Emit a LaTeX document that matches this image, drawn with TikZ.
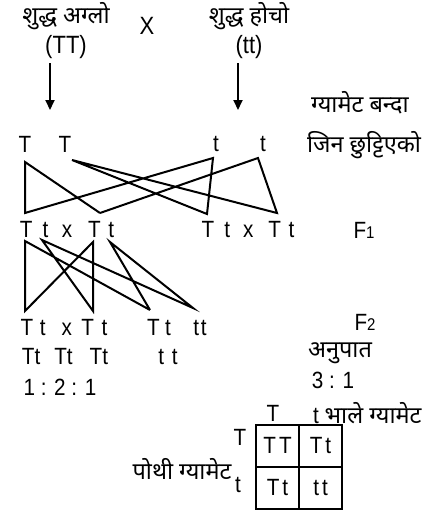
\documentclass[tikz,border=0pt]{standalone}
\usepackage{fontspec}
\setmainfont{Liberation Sans}[FakeStretch=0.88]
\newfontfamily\devfont[Script=Devanagari]{Noto Sans}
\usetikzlibrary{arrows.meta,positioning}

\begin{document}
\begin{tikzpicture}[x=1pt, y=-1pt,
    lbl/.style={inner sep=0pt, font=\fontsize{23.5}{26}\selectfont},
    big/.style={inner sep=0pt, font=\fontsize{25}{28}\selectfont},
    dev/.style={inner sep=0pt, font=\devfont\fontsize{23.5}{26}\selectfont},
    link/.style={line width=2pt, line join=miter},
    down/.style={line width=1.8pt, -{Triangle[length=10pt, width=9pt]}},
    cell/.style={draw, line width=2pt, minimum width=43pt, minimum height=42pt,
        inner sep=0pt, font=\fontsize{23.5}{26}\selectfont}
]
    \useasboundingbox (0,0) rectangle (439,512);

    % parents
    \node[dev] (pureTall) at (66,16) {शुद्ध अग्लो};
    \node[big] (crossSign) at (147,26) {X};
    \node[big] (tallGeno) at (66,47) {(TT)};
    \node[dev] (pureShort) at (249,16) {शुद्ध होचो};
    \node[big] (shortGeno) at (249,47) {(tt)};

    \coordinate (tallFrom) at (50,63);
    \coordinate (tallTo) at (50,110);
    \coordinate (shortFrom) at (238,63);
    \coordinate (shortTo) at (238,110);
    \draw[down] (tallFrom) -- (tallTo);
    \draw[down] (shortFrom) -- (shortTo);

    \node[dev] (gamNote) at (360,103) {ग्यामेट बन्दा};
    \node[dev] (gamNoteB) at (364,145) {जिन छुट्टिएको};

    % gametes
    \node[lbl] (gamT1) at (25,144) {T};
    \node[lbl] (gamT2) at (65,144) {T};
    \node[lbl] (gamt1) at (216,144) {t};
    \node[lbl] (gamt2) at (263,144) {t};

    \coordinate (upT1) at (25,162);
    \coordinate (upT2) at (72,160);
    \coordinate (upt1) at (213,158);
    \coordinate (upt2) at (258,158);
    \coordinate (loA) at (25,213);
    \coordinate (loB) at (100,213);
    \coordinate (loC) at (207,214);
    \coordinate (loD) at (277,213);
    \draw[link] (loB) -- (upT1) -- (loA) -- (upt1) -- (loC) -- (upT2) -- (loD) -- (upt2) -- (loB);

    % F1
    \node[lbl] (firstL) at (67,230) {T\hspace{10pt}t\hspace{13.5pt}x\hspace{16pt}T\hspace{7.5pt}t};
    \node[lbl] (firstR) at (248,230) {T\hspace{10pt}t\hspace{13pt}x\hspace{15pt}T\hspace{7.5pt}t};
    \node[lbl] (firstGen) at (364,230) {F{\fontsize{17}{18}\selectfont 1}};

    \coordinate (upT3) at (25,241);
    \coordinate (upt3) at (42,240);
    \coordinate (upT4) at (93,242);
    \coordinate (upt4) at (110,242);
    \coordinate (loE) at (25,311);
    \coordinate (loF) at (93,311);
    \coordinate (loG) at (150,310);
    \coordinate (loH) at (193,308);
    \draw[link] (loG) -- (upT3) -- (loE) -- (upT4) -- (loF) -- (upt3) -- (loH) -- (upt4) -- (loG);

    % F2
    \node[lbl] (secondA) at (64,328) {T\hspace{6.5pt}t\hspace{16pt}x\hspace{9.5pt}T\hspace{7.5pt}t};
    \node[lbl] (secondB) at (159,328) {T\hspace{5.5pt}t};
    \node[lbl] (secondC) at (200,328) {t\hspace{2pt}t};
    \node[lbl] (secondGen) at (365,322) {F{\fontsize{17}{18}\selectfont 2}};
    \node[lbl] (genoRow) at (65,357) {Tt\hspace{14pt}Tt\hspace{17pt}Tt};
    \node[lbl] (genoShort) at (168,357) {t\hspace{8pt}t};
    \node[lbl] (genoRatio) at (60,387) {1 : 2 : 1};
    \node[dev] (ratioNote) at (340,353) {अनुपात};
    \node[lbl] (phenoRatio) at (333,380) {3 : 1};

    % checker board
    \node[cell] (boxTT) at (277.5,445.5) {T\hspace{3pt}T};
    \node[cell] (boxTt) at (320.5,445.5) {T\hspace{3pt}t};
    \node[cell] (boxtT) at (277.5,487.5) {T\hspace{3pt}t};
    \node[cell] (boxtt) at (320.5,487.5) {t\hspace{3pt}t};

    \node[lbl] (maleT) at (273,413) {T};
    \node[lbl, anchor=west] (malet) at (313,413) {t {\devfont\fontsize{23.5}{26}\selectfont भाले ग्यामेट}};
    \node[lbl] (femT) at (240,437) {T};
    \node[lbl] (femt) at (238,485) {t};
    \node[dev] (femNote) at (182,469) {पोथी ग्यामेट};
\end{tikzpicture}
\end{document}
